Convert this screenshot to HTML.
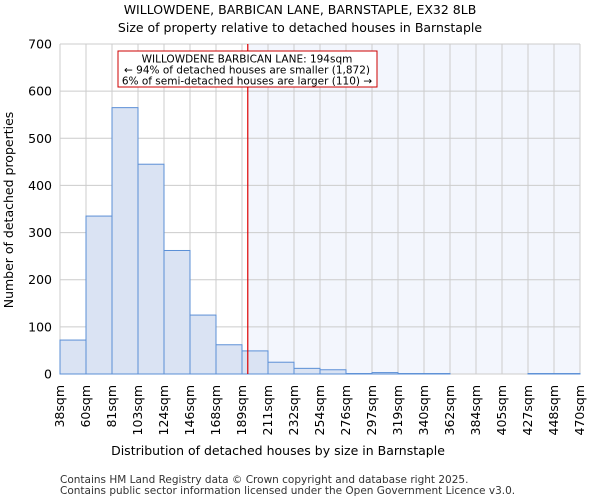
<!DOCTYPE html>
<html><head><meta charset="utf-8"><style>
body{margin:0;background:#fff;font-family:"DejaVu Sans","Liberation Sans",sans-serif;}
</style></head><body>
<svg id="c" width="600" height="500" xmlns="http://www.w3.org/2000/svg" font-family="DejaVu Sans, Liberation Sans, sans-serif">
<text x="300" y="14" text-anchor="middle" font-size="12.5">WILLOWDENE, BARBICAN LANE, BARNSTAPLE, EX32 8LB</text>
<text x="300" y="32" text-anchor="middle" font-size="12.5">Size of property relative to detached houses in Barnstaple</text>
<g id="plot"></g>
<text x="278" y="455" text-anchor="middle" font-size="12.5">Distribution of detached houses by size in Barnstaple</text>
<text transform="translate(13,210) rotate(-90)" text-anchor="middle" font-size="12.5">Number of detached properties</text>
<text x="60" y="483" font-size="10.5" fill="#333">Contains HM Land Registry data © Crown copyright and database right 2025.</text>
<text x="60" y="494" font-size="10.5" fill="#333">Contains public sector information licensed under the Open Government Licence v3.0.</text>
</svg>
<script>
const categories=["38sqm","60sqm","81sqm","103sqm","124sqm","146sqm","168sqm","189sqm","211sqm","232sqm","254sqm","276sqm","297sqm","319sqm","340sqm","362sqm","384sqm","405sqm","427sqm","448sqm","470sqm"];
const counts=[72,335,565,445,262,125,62,49,25,12,9,1,3,1,1,0,0,0,1,1];
const yTicks=[0,100,200,300,400,500,600,700];
const edgeMin=38, edgeMax=470, subjectSize=194;
const L=60,R=580,T=44,B=374,yMax=700;
const NS="http://www.w3.org/2000/svg";
const g=document.getElementById('plot');
const nb=counts.length, bw=(R-L)/nb;
const xs=i=>L+i*bw;
const xv=v=>L+(v-edgeMin)/(edgeMax-edgeMin)*(R-L);
const y=v=>B-v/yMax*(B-T);
function mk(t,a){const e=document.createElementNS(NS,t);for(const k in a)e.setAttribute(k,a[k]);g.appendChild(e);return e;}
const sx=xv(subjectSize);
let e=mk('rect',{x:sx,y:T,width:R-sx,height:B-T,fill:'#f3f6fd'});


for(let i=0;i<=nb;i++){e=mk('line',{x1:xs(i),x2:xs(i),y1:T,y2:B,stroke:'#ccc'});

}
yTicks.forEach(t=>{e=mk('line',{x1:L,x2:R,y1:y(t),y2:y(t),stroke:'#ccc'});


e=mk('text',{x:L-8,y:y(t)+4.5,'text-anchor':'end','font-size':'12.5'});e.textContent=t;

});
counts.forEach((c,i)=>{if(c<=0)return;e=mk('rect',{x:xs(i),y:y(c),width:bw,height:B-y(c),fill:'#dae3f3',stroke:'#5b8fd6','stroke-width':1});

});
categories.forEach((c,i)=>{const x=xs(i)+4;e=mk('text',{transform:`translate(${x},385) rotate(-90)`,'text-anchor':'end','font-size':'12.5'});e.textContent=c;

});
e=mk('line',{x1:sx,x2:sx,y1:T,y2:B,stroke:'#d00','stroke-width':1.2});


e=mk('rect',{x:118,y:51,width:259,height:36,fill:'#fff',stroke:'#c00'});


["WILLOWDENE BARBICAN LANE: 194sqm","← 94% of detached houses are smaller (1,872)","6% of semi-detached houses are larger (110) →"].forEach((s,i)=>{e=mk('text',{x:247,y:62.5+i*11,'text-anchor':'middle','font-size':'10.5'});e.textContent=s;

});
</script>
</body></html>
